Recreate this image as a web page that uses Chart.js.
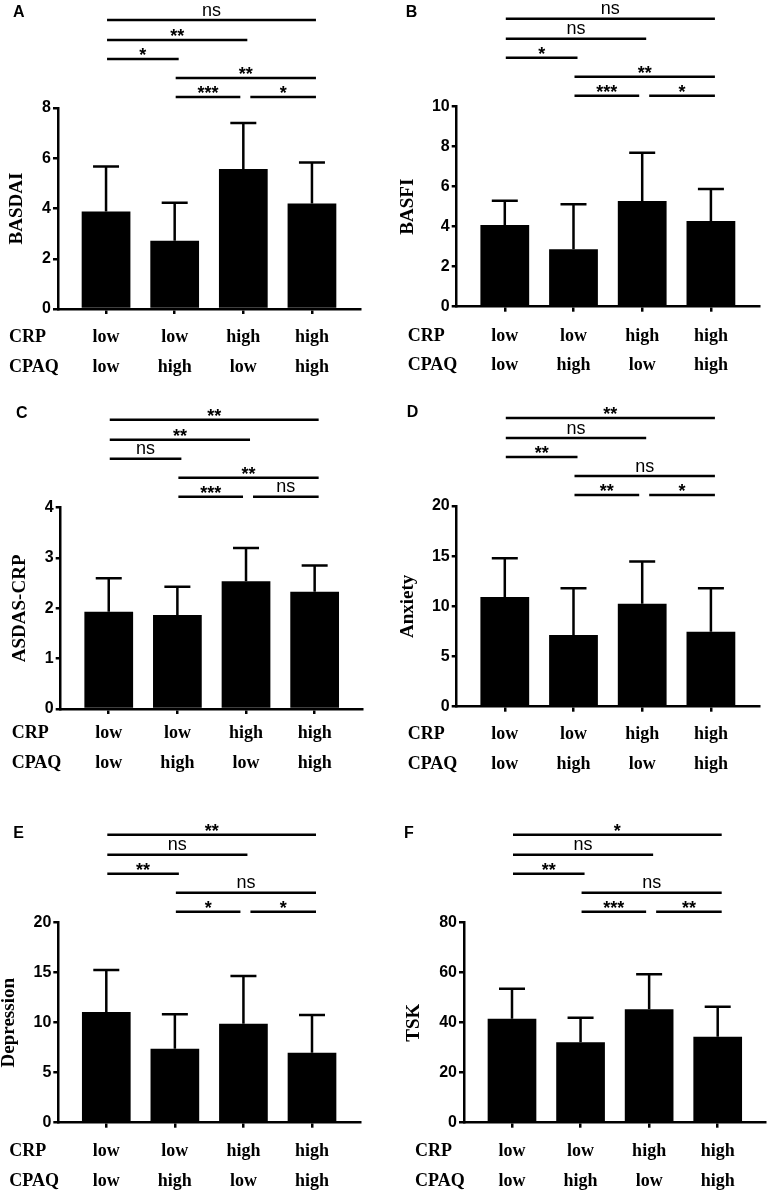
<!DOCTYPE html>
<html>
<head>
<meta charset="utf-8">
<script src="https://cdn.jsdelivr.net/npm/chart.js@4/dist/chart.umd.min.js"></script>
<style>
body { margin: 0; background: #fff; }
#wrap { position: relative; width: 767px; height: 1192px; }
canvas { position: absolute; }
</style>
</head>
<body>
<div id="wrap">
  <canvas id="pA" width="383" height="380" style="left:0px;top:0px"></canvas>
  <canvas id="pB" width="383" height="380" style="left:384px;top:0px"></canvas>
  <canvas id="pC" width="383" height="410" style="left:0px;top:380px"></canvas>
  <canvas id="pD" width="383" height="410" style="left:384px;top:380px"></canvas>
  <canvas id="pE" width="383" height="402" style="left:0px;top:790px"></canvas>
  <canvas id="pF" width="383" height="402" style="left:384px;top:790px"></canvas>
</div>
<script>
// groups
var crp  = ['low', 'low', 'high', 'high'];
var cpaq = ['low', 'high', 'low', 'high'];

// means and SD (upper error bar)
var basdaiMean = [3.88, 2.72, 5.57, 4.20];
var basdaiSD   = [1.79, 1.51, 1.83, 1.63];
var basfiMean  = [4.08, 2.87, 5.28, 4.28];
var basfiSD    = [1.22, 2.25, 2.42, 1.60];
var asdasMean  = [1.93, 1.87, 2.54, 2.33];
var asdasSD    = [0.67, 0.56, 0.66, 0.52];
var anxMean    = [10.93, 7.15, 10.27, 7.48];
var anxSD      = [3.87, 4.65, 4.19, 4.32];
var depMean    = [11.07, 7.40, 9.90, 7.00];
var depSD      = [4.20, 3.44, 4.77, 3.77];
var tskMean    = [41.6, 32.2, 45.4, 34.4];
var tskSD      = [12.0, 9.8, 14.0, 12.0];

// significance brackets: group pairs, stacking level, labels per panel
var pairs  = [[1, 2], [2, 3], [1, 3], [0, 1], [0, 2], [0, 3]];
var levels = [0, 0, 1, 2, 3, 4];
var sigA = ['***', '*', '**', '*', '**', 'ns'];
var sigB = ['***', '*', '**', '*', 'ns', 'ns'];
var sigC = ['***', 'ns', '**', 'ns', '**', '**'];
var sigD = ['**', '*', 'ns', '**', 'ns', '**'];
var sigE = ['*', '*', 'ns', '**', 'ns', '**'];
var sigF = ['***', '**', 'ns', '**', 'ns', '*'];

var levelOff = [11, 30, 49, 68, 88];

var extras = {
  id: 'extras',
  afterDatasetsDraw: function (chart) {
    var p = chart.options.plugins.extras;
    var ctx = chart.ctx, a = chart.chartArea, xs = chart.scales.x, ys = chart.scales.y;
    var bars = chart.getDatasetMeta(0).data;
    ctx.save();
    ctx.strokeStyle = '#000';
    ctx.fillStyle = '#000';
    ctx.lineWidth = 2.5;

    // error bars
    p.mean.forEach(function (m, i) {
      var x = bars[i].x, y0 = bars[i].y, y1 = ys.getPixelForValue(m + p.sd[i]);
      ctx.beginPath();
      ctx.moveTo(x, y0); ctx.lineTo(x, y1);
      ctx.moveTo(x - 13, y1); ctx.lineTo(x + 13, y1);
      ctx.stroke();
    });

    // brackets
    pairs.forEach(function (pr, k) {
      var y = a.top - levelOff[levels[k]];
      var x1 = xs.getPixelForValue(pr[0]) + 1;
      var x2 = xs.getPixelForValue(pr[1]) + 4;
      pairs.forEach(function (q, j) {
        if (j !== k && levels[j] === levels[k]) {
          if (q[0] === pr[1]) x2 -= 7;
          if (q[1] === pr[0]) x1 += 6;
        }
      });
      ctx.beginPath();
      ctx.moveTo(x1, y); ctx.lineTo(x2, y);
      ctx.stroke();
      var lab = p.sig[k];
      ctx.textAlign = 'center';
      ctx.textBaseline = 'alphabetic';
      if (lab.indexOf('*') >= 0) {
        ctx.font = 'bold 18px "Liberation Sans", Arial';
        ctx.fillText(lab, (x1 + x2) / 2, y + 2);
      } else {
        ctx.font = '18px "Liberation Sans", Arial';
        ctx.fillText(lab, (x1 + x2) / 2, y - 4.5);
      }
    });

    // group rows
    ctx.font = 'bold 18px "Liberation Serif", "Times New Roman", serif';
    ctx.textBaseline = 'middle';
    ctx.textAlign = 'left';
    ctx.fillText('CRP', a.left - 49, a.bottom + p.rowDy[0]);
    ctx.fillText('CPAQ', a.left - 49, a.bottom + p.rowDy[1]);
    ctx.textAlign = 'center';
    crp.forEach(function (c, i) {
      var x = xs.getPixelForValue(i);
      ctx.fillText(c, x, a.bottom + p.rowDy[0]);
      ctx.fillText(cpaq[i], x, a.bottom + p.rowDy[1]);
    });

    // panel letter
    ctx.font = 'bold 16px "Liberation Sans", Arial';
    ctx.textAlign = 'left';
    ctx.fillText(p.letter, p.letterPos[0], p.letterPos[1]);
    ctx.restore();
  }
};

function makePanel(id, letter, title, mean, sd, sig, ymax, step, L) {
  return new Chart(document.getElementById(id), {
    type: 'bar',
    data: {
      datasets: [{
        data: mean.map(function (v, i) { return { x: i, y: v }; }),
        backgroundColor: '#000',
        borderWidth: 0,
        categoryPercentage: 1,
        barPercentage: 0.71
      }]
    },
    options: {
      responsive: false,
      animation: false,
      layout: { padding: { left: L.padL, top: L.top, right: 383 - L.right, bottom: L.h - L.bottom - 8 } },
      plugins: {
        legend: { display: false },
        tooltip: { enabled: false },
        extras: { mean: mean, sd: sd, sig: sig, letter: letter, letterPos: L.letter, rowDy: L.rowDy }
      },
      scales: {
        x: {
          type: 'linear', min: -0.7, max: 3.7, offset: false,
          afterBuildTicks: function (s) { s.ticks = crp.map(function (c, i) { return { value: i }; }); },
          afterFit: function (s) { s.height = 8; },
          ticks: { display: false },
          grid: { offset: false, drawOnChartArea: false, color: '#000', lineWidth: 2.5, tickLength: 5 },
          border: { color: '#000', width: 2.5 }
        },
        y: {
          min: 0, max: ymax,
          afterFit: function (s) { s.width = L.left - L.padL; },
          ticks: { stepSize: step, color: '#000', padding: 2,
                   font: { family: '"Liberation Sans", Arial', weight: 'bold', size: 16 } },
          grid: { drawOnChartArea: false, color: '#000', lineWidth: 2.5, tickLength: 5 },
          border: { color: '#000', width: 2.5 },
          title: { display: true, text: title, color: '#000', padding: 0,
                   font: { family: '"Liberation Serif", "Times New Roman", serif', weight: 'bold', size: 19, lineHeight: 1 } }
        }
      }
    },
    plugins: [extras]
  });
}

var pA = makePanel('pA', 'A', 'BASDAI', basdaiMean, basdaiSD, sigA, 8, 2,
  { left: 58, top: 108, right: 360, bottom: 309, padL: 7.7, h: 380, letter: [13, 13], rowDy: [28, 58] });
var pB = makePanel('pB', 'B', 'BASFI', basfiMean, basfiSD, sigB, 10, 2,
  { left: 72.7, top: 106.7, right: 375, bottom: 306.7, padL: 15, h: 380, letter: [21.7, 12.7], rowDy: [30, 59] });
var pC = makePanel('pC', 'C', 'ASDAS-CRP', asdasMean, asdasSD, sigC, 4, 1,
  { left: 60.7, top: 127.7, right: 362.7, bottom: 329, padL: 11, h: 410, letter: [16, 33.3], rowDy: [24, 54] });
var pD = makePanel('pD', 'D', 'Anxiety', anxMean, anxSD, sigD, 20, 5,
  { left: 72.7, top: 126, right: 375, bottom: 326.7, padL: 14.3, h: 410, letter: [22.7, 32.3], rowDy: [28, 58] });
var pE = makePanel('pE', 'E', 'Depression', depMean, depSD, sigE, 20, 5,
  { left: 58.3, top: 132.7, right: 360, bottom: 332.7, padL: 0, h: 402, letter: [13.3, 43.3], rowDy: [29, 59] });
var pF = makePanel('pF', 'F', 'TSK', tskMean, tskSD, sigF, 80, 20,
  { left: 80, top: 132.7, right: 381.7, bottom: 332.7, padL: 21, h: 402, letter: [20, 43.3], rowDy: [29, 59] });
</script>
</body>
</html>
